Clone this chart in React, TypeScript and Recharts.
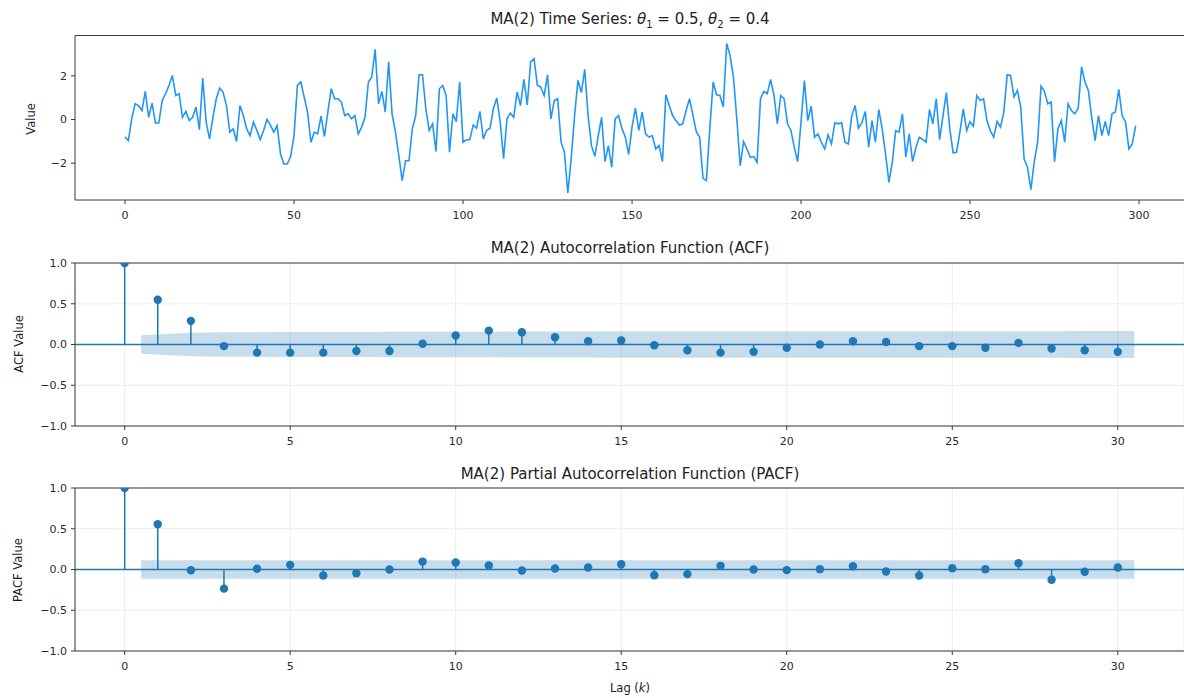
import React from 'react';
import {
  ComposedChart,
  Line,
  Area,
  Scatter,
  XAxis,
  YAxis,
  CartesianGrid,
  ReferenceLine,
} from 'recharts';

// simulated MA(2) series (t = 0..299)
const seriesValues = [
  -0.81, -0.97, 0.05, 0.72, 0.64, 0.41, 1.29, 0.1, 0.75, -0.17,
  -0.15, 0.87, 1.18, 1.56, 2.02, 1.1, 1.18, 0.1, 0.37, -0.05,
  0.1, 0.57, -0.47, 1.9, -0.12, -0.89, 0.1, 0.95, 1.44, 1.26,
  0.64, -0.58, -0.43, -1.01, 0.64, 0.18, -0.43, -0.74, -0.12, -0.5,
  -0.92, -0.5, 0.0, -0.25, -0.58, -0.28, -1.58, -2.04, -2.04, -1.7,
  -0.74, 1.56, 1.72, 1.03, 0.34, -1.04, -0.58, -0.66, 0.15, -0.78,
  0.34, 1.41, 0.95, 0.95, 0.8, 0.18, 0.26, 0.03, 0.18, -0.66,
  -0.35, 0.1, 1.72, 1.95, 3.22, 0.72, 1.29, 0.34, 2.64, 0.26,
  -0.58, -1.66, -2.8, -1.89, -1.89, -0.43, 0.18, 2.05, 2.05, 0.49,
  -0.5, -0.2, -1.47, 1.41, 1.56, 1.1, -1.5, 0.26, -0.1, 1.72,
  -1.04, -0.93, -0.93, -0.25, -0.4, 0.37, -0.89, -0.5, -0.4, 0.52,
  0.98, -0.12, -1.8, 0.03, 0.29, 0.1, 1.26, 0.64, 1.84, 0.67,
  2.64, 2.79, 1.56, 1.49, 1.1, 2.05, 0.03, 0.87, 0.95, -1.04,
  -1.5, -3.37, -1.8, 0.18, 1.79, 1.23, 2.3, 0.18, -1.2, -1.69,
  -0.74, 0.1, -1.93, -1.2, -2.19, 0.03, 0.18, -0.4, -0.8, -1.6,
  -0.35, 0.52, -0.5, 0.34, -0.66, -0.81, -0.74, -1.35, -1.2, -1.93,
  1.13, 0.64, 0.18, -0.05, -0.25, -0.2, 0.41, 0.95, 0.21, -0.55,
  -0.81, -2.7, -2.8, -0.43, 1.72, 1.13, 1.1, 0.57, 3.48, 2.94,
  1.95, 0.03, -2.12, -1.01, -1.35, -1.73, -1.7, -1.96, 0.95, 1.29,
  1.18, 1.84, 1.1, -0.2, 1.1, 0.95, -0.2, -0.5, -1.27, -1.93,
  -0.12, 1.79, -0.05, 0.61, -0.81, -0.66, -1.04, -1.35, -0.7, -1.12,
  -0.15, -0.2, -0.15, -1.04, -1.12, 0.18, 0.64, -0.4, -0.15, 0.37,
  -1.27, -0.05, -1.04, 0.46, -0.43, -1.58, -2.88, -1.96, -0.51, -0.58,
  0.26, -1.73, -0.66, -1.93, -1.27, -0.81, -0.92, -1.04, 0.46, -0.2,
  0.95, -0.92, 0.18, 1.23, -0.43, -1.53, -1.5, -0.58, 0.49, -0.51,
  -0.1, -0.31, 1.1, 0.87, 0.95, -0.05, -0.51, -0.81, -0.09, -0.35,
  0.34, 2.05, 2.02, 1.03, 1.33, 0.57, -1.81, -2.19, -3.22, -1.93,
  -1.04, 1.53, 1.29, 0.72, 0.8, -1.93, -0.43, -0.05, -1.04, 0.72,
  0.41, 0.26, 0.52, 2.41, 1.72, 1.33, 0.1, -0.97, 0.18, -0.74,
  -0.09, -0.74, 0.26, 0.34, 1.38, 0.18, -0.12, -1.35, -1.12, -0.28,
];

const lags = [
  0, 1, 2, 3, 4, 5, 6, 7, 8, 9, 10, 11, 12, 13, 14, 15,
  16, 17, 18, 19, 20, 21, 22, 23, 24, 25, 26, 27, 28, 29, 30,
];

const acfValues = [
  1.0, 0.55, 0.29, -0.02, -0.1, -0.1, -0.1, -0.08, -0.08, 0.01, 0.11,
  0.17, 0.15, 0.09, 0.04, 0.05, -0.01, -0.07, -0.1, -0.09, -0.04,
  0.0, 0.04, 0.03, -0.02, -0.02, -0.04, 0.02, -0.05, -0.07, -0.09,
];

const pacfValues = [
  1.0, 0.555, -0.01, -0.235, 0.01, 0.057, -0.073, -0.045, 0.0, 0.097, 0.085,
  0.049, -0.012, 0.012, 0.024, 0.065, -0.07, -0.057, 0.045, 0.0, -0.008,
  0.004, 0.04, -0.024, -0.073, 0.016, 0.004, 0.077, -0.126, -0.028, 0.024,
];

// 95% confidence half-widths for lags 1..30
const acfBand = [
  0.113, 0.143, 0.151, 0.151, 0.152, 0.153, 0.154, 0.155, 0.156, 0.156,
  0.157, 0.159, 0.161, 0.161, 0.162, 0.162, 0.162, 0.163, 0.163, 0.164,
  0.164, 0.164, 0.164, 0.164, 0.164, 0.164, 0.164, 0.164, 0.165, 0.165,
];
const pacfBand = [
  0.113, 0.113, 0.113, 0.113, 0.113, 0.113, 0.113, 0.113, 0.113, 0.113,
  0.113, 0.113, 0.113, 0.113, 0.113, 0.113, 0.113, 0.113, 0.113, 0.113,
  0.113, 0.113, 0.113, 0.113, 0.113, 0.113, 0.113, 0.113, 0.113, 0.113,
];

const timeTicks = [0, 50, 100, 150, 200, 250, 300];
const lagTicks = [0, 5, 10, 15, 20, 25, 30];
const valueTicks = [-2, 0, 2];
const corrTicks = [-1, -0.5, 0, 0.5, 1];

const BLUE = '#1f77b4';
const SPINE = '#3a3a3a';
const W = 1184;

const minus = (s: string) => s.replace('-', '\u2212');

const tsData = seriesValues.map((v, t) => ({ t, v }));

// statsmodels shifts the first and last lag by half a step for the band
const bandData = (half: number[]) =>
  half.map((h, i) => {
    const lag = lags[i + 1];
    const x = i === 0 ? lag - 0.5 : i === half.length - 1 ? lag + 0.5 : lag;
    return { x, band: [-h, h] };
  });

const tickStyle = { fontSize: 11, fill: '#2a2a2a' };

const Title = ({ y, children }: { y: number; children: React.ReactNode }) => (
  <div
    style={{
      position: 'absolute',
      left: 75,
      width: 1110,
      top: y - 10,
      lineHeight: '20px',
      textAlign: 'center',
      fontSize: 15,
      color: '#222',
      whiteSpace: 'nowrap',
    }}
  >
    {children}
  </div>
);

const AxisTitle = ({ x, y, rotate, children }: { x: number; y: number; rotate?: boolean; children: React.ReactNode }) => (
  <div
    style={{
      position: 'absolute',
      left: x,
      top: y,
      fontSize: 11.5,
      color: '#222',
      whiteSpace: 'nowrap',
      transform: `translate(-50%, -50%)${rotate ? ' rotate(-90deg)' : ''}`,
    }}
  >
    {children}
  </div>
);

const Dot = (p: any) => <circle cx={p.cx} cy={p.cy} r={4.2} fill={BLUE} />;

const StemPanel = ({ values, band, top }: { values: number[]; band: number[]; top: number }) => {
  const points = values.map((y, i) => ({ x: lags[i], y }));
  return (
    <div style={{ position: 'absolute', left: 0, top, width: W, height: 220 }}>
      <ComposedChart
        width={W}
        height={220}
        data={bandData(band)}
        margin={{ top: 23, right: 0, bottom: 4, left: 0 }}
      >
        <CartesianGrid stroke="#ececec" />
        <XAxis
          type="number"
          dataKey="x"
          domain={[-1.5, 32]}
          ticks={lagTicks}
          allowDataOverflow
          height={30}
          tick={tickStyle}
          tickSize={4}
          tickMargin={7}
          axisLine={{ stroke: SPINE }}
          tickLine={{ stroke: SPINE }}
        />
        <YAxis
          type="number"
          domain={[-1, 1]}
          ticks={corrTicks}
          allowDataOverflow
          width={75}
          tick={tickStyle}
          tickSize={4}
          tickMargin={4}
          tickFormatter={(v: number) => minus(v.toFixed(1))}
          axisLine={{ stroke: SPINE }}
          tickLine={{ stroke: SPINE }}
        />
        <Area
          type="linear"
          dataKey="band"
          fill={BLUE}
          fillOpacity={0.25}
          stroke="none"
          isAnimationActive={false}
        />
        <ReferenceLine y={0} stroke={BLUE} strokeWidth={1.5} />
        {points.map((p) => (
          <ReferenceLine
            key={p.x}
            segment={[
              { x: p.x, y: 0 },
              { x: p.x, y: p.y },
            ]}
            stroke={BLUE}
            strokeWidth={1.5}
          />
        ))}
        <Scatter data={points} dataKey="y" shape={Dot} isAnimationActive={false} />
        <ReferenceLine y={1} stroke={SPINE} />
      </ComposedChart>
    </div>
  );
};

export default function App() {
  return (
    <div
      style={{
        position: 'absolute',
        left: 0,
        top: 0,
        width: W,
        height: 698,
        overflow: 'hidden',
        background: '#fff',
        fontFamily: '"DejaVu Sans", sans-serif',
      }}
    >
      <Title y={19}>
        MA(2) Time Series: <i>θ</i>
        <sub style={{ fontSize: 10 }}>1</sub> = 0.5, <i>θ</i>
        <sub style={{ fontSize: 10 }}>2</sub> = 0.4
      </Title>
      <div style={{ position: 'absolute', left: 0, top: 0, width: W, height: 230 }}>
        <ComposedChart
          width={W}
          height={230}
          data={tsData}
          margin={{ top: 35.5, right: 0, bottom: 0, left: 0 }}
        >
          <XAxis
            type="number"
            dataKey="t"
            domain={[-14.8, 313.3]}
            ticks={timeTicks}
            allowDataOverflow
            height={30}
            tick={tickStyle}
            tickSize={4}
            tickMargin={7}
            axisLine={{ stroke: SPINE }}
            tickLine={{ stroke: SPINE }}
          />
          <YAxis
            type="number"
            domain={[-3.69, 3.85]}
            ticks={valueTicks}
            allowDataOverflow
            width={75}
            tick={tickStyle}
            tickSize={4}
            tickMargin={4}
            tickFormatter={(v: number) => minus(String(v))}
            axisLine={{ stroke: SPINE }}
            tickLine={{ stroke: SPINE }}
          />
          <Line
            type="linear"
            dataKey="v"
            stroke="#2196f3"
            strokeWidth={1.6}
            dot={false}
            isAnimationActive={false}
          />
          <ReferenceLine y={3.85} stroke={SPINE} />
        </ComposedChart>
      </div>
      <AxisTitle x={31} y={119} rotate>Value</AxisTitle>

      <Title y={248}>MA(2) Autocorrelation Function (ACF)</Title>
      <StemPanel values={acfValues} band={acfBand} top={240} />
      <AxisTitle x={19} y={344} rotate>ACF Value</AxisTitle>

      <Title y={474}>MA(2) Partial Autocorrelation Function (PACF)</Title>
      <StemPanel values={pacfValues} band={pacfBand} top={465} />
      <AxisTitle x={18} y={570} rotate>PACF Value</AxisTitle>

      <AxisTitle x={630} y={688}>
        Lag (<i>k</i>)
      </AxisTitle>
    </div>
  );
}
